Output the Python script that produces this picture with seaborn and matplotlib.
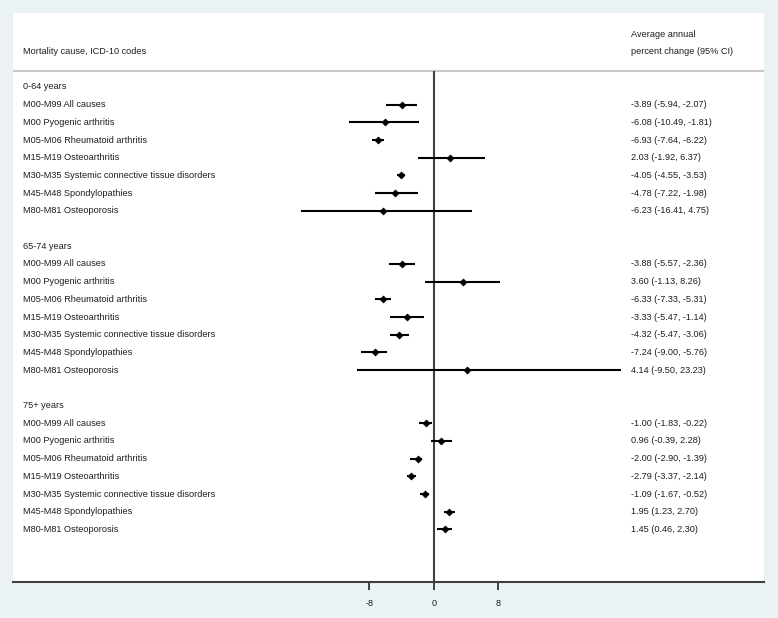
import pandas as pd
import matplotlib.pyplot as plt
import seaborn as sns

# Forest plot: average annual percent change in mortality, by age group
age_groups = ["0-64 years", "65-74 years", "75+ years"]
causes = [
    "M00-M99 All causes",
    "M00 Pyogenic arthritis",
    "M05-M06 Rheumatoid arthritis",
    "M15-M19 Osteoarthritis",
    "M30-M35 Systemic connective tissue disorders",
    "M45-M48 Spondylopathies",
    "M80-M81 Osteoporosis",
]

est_0_64 = [-3.89, -6.08, -6.93, 2.03, -4.05, -4.78, -6.23]
lo_0_64 = [-5.94, -10.49, -7.64, -1.92, -4.55, -7.22, -16.41]
hi_0_64 = [-2.07, -1.81, -6.22, 6.37, -3.53, -1.98, 4.75]

est_65_74 = [-3.88, 3.60, -6.33, -3.33, -4.32, -7.24, 4.14]
lo_65_74 = [-5.57, -1.13, -7.33, -5.47, -5.47, -9.00, -9.50]
hi_65_74 = [-2.36, 8.26, -5.31, -1.14, -3.06, -5.76, 23.23]

est_75 = [-1.00, 0.96, -2.00, -2.79, -1.09, 1.95, 1.45]
lo_75 = [-1.83, -0.39, -2.90, -3.37, -1.67, 1.23, 0.46]
hi_75 = [-0.22, 2.28, -1.39, -2.14, -0.52, 2.70, 2.30]

x_ticks = [-8, 0, 8]

# build a long table, one row per line of the plot
records = []
for g, (est, lo, hi) in enumerate([(est_0_64, lo_0_64, hi_0_64),
                                   (est_65_74, lo_65_74, hi_65_74),
                                   (est_75, lo_75, hi_75)]):
    base = g * 9
    for i, cause in enumerate(causes):
        records.append({"group": age_groups[g], "cause": cause, "row": base + 1 + i,
                        "est": est[i], "lo": lo[i], "hi": hi[i]})
df = pd.DataFrame(records)

sns.set_theme(style="white")
plt.rcParams["font.family"] = ["Liberation Sans", "DejaVu Sans"]

txt_color = "#1e1e1e"
fs = 6.6

fig = plt.figure(figsize=(7.78, 6.18), dpi=100, facecolor="#eaf2f3")
ax = fig.add_axes([13 / 778, 36 / 618, 751 / 778, 569 / 618])
ax.set_facecolor("white")

ax.set_xlim(-52.18, 40.97)
ax.set_ylim(27.97, -4.18)

# confidence intervals and point estimates
ax.hlines(df["row"], df["lo"], df["hi"], color="black", lw=1.5, zorder=3)
sns.scatterplot(data=df, x="est", y="row", marker="D", color="black", s=12,
                edgecolor="black", linewidth=0.6, legend=False, ax=ax, zorder=4)

# header separator and zero reference line
ax.axhline(-0.9, color="#c8c8c8", lw=1.5)
ax.vlines(0, -0.9, 27.97, color="#404040", lw=1.5, zorder=2)

# texts
tr = ax.get_yaxis_transform()
x_left = 10 / 751
x_right = 618 / 751
ax.text(x_left, -2.0, "Mortality cause, ICD-10 codes", transform=tr, fontsize=fs,
        color=txt_color, va="center")
ax.text(x_right, -2.95, "Average annual", transform=tr, fontsize=fs,
        color=txt_color, va="center")
ax.text(x_right, -2.0, "percent change (95% CI)", transform=tr, fontsize=fs,
        color=txt_color, va="center")

for g, grp in enumerate(age_groups):
    ax.text(x_left, g * 9, grp, transform=tr, fontsize=fs, color=txt_color, va="center")

for _, r in df.iterrows():
    ax.text(x_left, r["row"], r["cause"], transform=tr, fontsize=fs,
            color=txt_color, va="center")
    ax.text(x_right, r["row"], f"{r['est']:.2f} ({r['lo']:.2f}, {r['hi']:.2f})",
            transform=tr, fontsize=fs, color=txt_color, va="center")

# axis styling
for side in ["top", "left", "right"]:
    ax.spines[side].set_visible(False)
ax.spines["bottom"].set_color("#404040")
ax.spines["bottom"].set_linewidth(1.5)
ax.set_xticks(x_ticks)
ax.set_xticklabels([str(t) for t in x_ticks])
ax.set_yticks([])
ax.tick_params(axis="x", bottom=True, length=6, width=1.4, color="#404040",
               pad=6, labelsize=fs, labelcolor=txt_color)
ax.set_xlabel("")
ax.set_ylabel("")

fig.savefig("out.png", dpi=100, facecolor=fig.get_facecolor())
